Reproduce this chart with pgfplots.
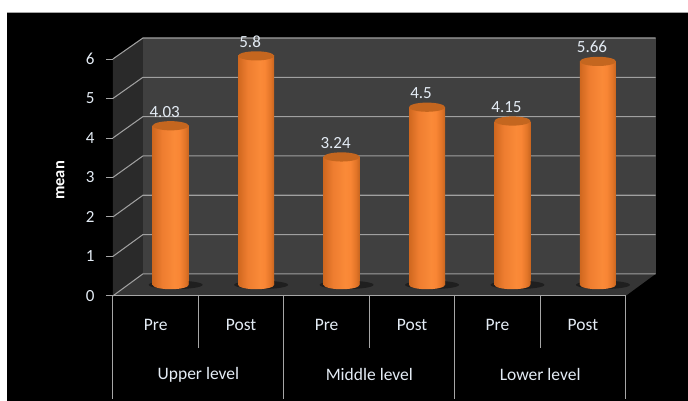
\documentclass[border=0pt]{standalone}
\usepackage{pgfplots}
\pgfplotsset{compat=1.18}
\usepackage{fontspec}
\setmainfont{Carlito}
\definecolor{txt}{HTML}{E4ECF5}
\definecolor{gridc}{HTML}{A0A0A0}
\definecolor{axc}{HTML}{A6A6A6}
\definecolor{backw}{HTML}{404040}
\definecolor{sidew}{HTML}{2A2A2A}
\definecolor{floorc}{HTML}{353535}
\definecolor{capc}{HTML}{C4661F}
\definecolor{cA}{HTML}{D0681F}
\definecolor{cB}{HTML}{EE7D30}
\definecolor{cC}{HTML}{FA8A38}
\definecolor{cD}{HTML}{F98635}
\definecolor{cE}{HTML}{E27528}
\definecolor{cF}{HTML}{C8651F}
\pgfdeclarehorizontalshading{cyl}{100bp}{
  color(0bp)=(cA);
  color(25bp)=(cA);
  color(38bp)=(cB);
  color(55bp)=(cC);
  color(62bp)=(cD);
  color(70bp)=(cE);
  color(75bp)=(cF);
  color(100bp)=(cF)}
\pgfdeclareplotmark{captop}{\pgfpathellipse{\pgfpointorigin}{\pgfqpoint{18pt}{0pt}}{\pgfqpoint{0pt}{4.6pt}}\pgfusepathqfill}
\pgfdeclareplotmark{capbot}{\path[draw=none,fill=none,shading=cyl,shading angle=0] (-18pt,0pt) arc [start angle=180,end angle=360,x radius=18pt,y radius=4.4pt] -- (18pt,6pt) -- (-18pt,6pt) -- cycle;}
\pgfdeclareplotmark{shadow}{\pgfpathellipse{\pgfqpoint{5pt}{0pt}}{\pgfqpoint{27pt}{0pt}}{\pgfqpoint{0pt}{4.2pt}}\pgfusepathqfill}
\pgfplotsset{cylbar/.style={ybar, bar width=36pt, bar shift=0pt, draw=none, shading=cyl, shading angle=0}}
\begin{document}
\begin{tikzpicture}[x=1pt,y=1pt]
% page and panel, in image pixels (y measured downward from the top)
\fill[white] (0,0) rectangle (688,401);
\fill[black] (7,0) rectangle (688,389);
\draw[gray!70,line width=0.7pt] (7,389) -- (688,389);
% walls and floor of the 3D box
\fill[sidew] (113,105) -- (143,127) -- (143,363) -- (113,342) -- cycle;
\fill[backw] (143,127) rectangle (656,363);
\fill[floorc] (113,105) -- (143,127) -- (656,127) -- (626,105) -- cycle;
\foreach \i in {0,...,6}{
  \pgfmathsetmacro{\yb}{127+\i*39.33}
  \pgfmathsetmacro{\yf}{105+\i*39.5}
  \draw[gridc,line width=1.05pt] (113,\yf) -- (143,\yb) -- (656,\yb);
}
% front axis: ticks, tick labels, category labels
\begin{axis}[
  at={(113pt,105pt)}, anchor=south west,
  scale only axis, width=513pt, height=237pt,
  xmin=-0.5, xmax=5.5, ymin=0, ymax=6,
  axis line style={draw=none},
  axis x line*=bottom, axis y line*=left,
  clip=false,
  xtick={0,...,5},
  xticklabels={Pre,Post,Pre,Post,Pre,Post},
  xtick style={draw=none},
  xticklabel style={font=\fontsize{17.5}{18}\selectfont, text=txt, yshift=-13pt},
  ytick={0,...,6},
  y tick style={draw=axc, line width=0.8pt},
  tick align=outside, major tick length=7pt,
  yticklabel style={font=\fontsize{17}{18}\selectfont, text=txt, xshift=-8pt},
  /pgf/number format/assume math mode=true,
  ylabel={\textbf{mean}},
  ylabel style={font=\fontsize{16.5}{17}\selectfont, text=white, at={(axis description cs:0,0.5)}, anchor=south, yshift=45pt, xshift=-3pt},
]
\draw[axc,line width=1.05pt] (axis cs:-0.5,0) -- (axis cs:5.5,0);
\foreach \x in {-0.5,1.5,3.5,5.5}{
  \edef\tmp{\noexpand\draw[axc,line width=1.05pt] (axis cs:\x,0) -- ([yshift=-103pt]axis cs:\x,0);}\tmp
}
\foreach \x in {0.5,2.5,4.5}{
  \edef\tmp{\noexpand\draw[axc,line width=1.05pt] (axis cs:\x,0) -- ([yshift=-52pt]axis cs:\x,0);}\tmp
}
\node[text=txt,font=\fontsize{17.5}{18}\selectfont,anchor=center] at ([yshift=-79pt]axis cs:0.5,0) {Upper level};
\node[text=txt,font=\fontsize{17.5}{18}\selectfont,anchor=center] at ([yshift=-79pt]axis cs:2.5,0) {Middle level};
\node[text=txt,font=\fontsize{17.5}{18}\selectfont,anchor=center] at ([yshift=-79pt]axis cs:4.5,0) {Lower level};
\end{axis}
% bars: mid-depth plane of the box
\begin{axis}[
  at={(128pt,116pt)}, anchor=south west,
  scale only axis, width=513pt, height=237pt,
  xmin=-0.5, xmax=5.5, ymin=0, ymax=6,
  hide axis, clip=false,
]
\addplot[only marks, mark=shadow, mark options={fill=black, draw=none, fill opacity=0.4}]
  coordinates {(0,0)(1,0)(2,0)(3,0)(4,0)(5,0)};
\addplot[cylbar] coordinates {(0,4.03)};
\addplot[cylbar] coordinates {(1,5.8)};
\addplot[cylbar] coordinates {(2,3.24)};
\addplot[cylbar] coordinates {(3,4.5)};
\addplot[cylbar] coordinates {(4,4.15)};
\addplot[cylbar] coordinates {(5,5.66)};
\addplot[only marks, mark=capbot, mark options={draw=none}]
  coordinates {(0,0)(1,0)(2,0)(3,0)(4,0)(5,0)};
\addplot[only marks, mark=captop, mark options={fill=capc, draw=none},
  nodes near coords, point meta=explicit symbolic,
  every node near coord/.append style={font=\fontsize{17}{18}\selectfont, text=txt, anchor=south, yshift=5pt, xshift=-6pt}]
  table[meta=l] {
  x y l
  0 4.03 4.03
  1 5.8 5.8
  2 3.24 3.24
  3 4.5 4.5
  4 4.15 4.15
  5 5.66 5.66
  };
\end{axis}
\end{tikzpicture}
\end{document}
